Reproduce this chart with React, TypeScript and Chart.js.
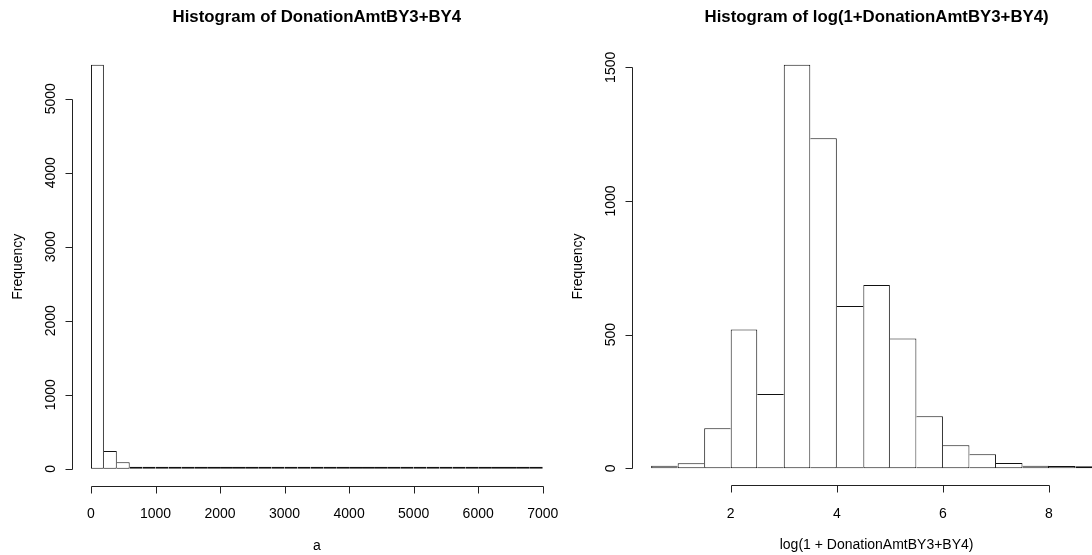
import React, { useEffect, useRef } from "react";
import { Chart, registerables } from "chart.js";

Chart.register(...registerables);

// ---------- Left histogram: DonationAmtBY3+BY4 (bins of width 200) ----------
const leftBinMids = [
  100, 300, 500, 700, 900, 1100, 1300, 1500, 1700, 1900, 2100, 2300, 2500, 2700,
  2900, 3100, 3300, 3500, 3700, 3900, 4100, 4300, 4500, 4700, 4900, 5100, 5300,
  5500, 5700, 5900, 6100, 6300, 6500, 6700, 6900,
];
const leftCounts = [
  5460, 239, 86, 23, 19, 14, 8, 6, 5, 4, 3, 3, 2, 2, 2, 1, 1, 1, 1, 1, 1, 1, 1, 1,
  1, 1, 1, 1, 1, 1, 1, 1, 1, 1, 1,
];
const leftBinWidth = 200;
const leftXTicks = [0, 1000, 2000, 3000, 4000, 5000, 6000, 7000];
const leftXTickLabels = ["0", "1000", "2000", "3000", "4000", "5000", "6000", "7000"];
const leftYTicks = [0, 1000, 2000, 3000, 4000, 5000];
const leftYTickLabels = ["0", "1000", "2000", "3000", "4000", "5000"];
const leftTitle = "Histogram of DonationAmtBY3+BY4";
const leftXTitle = "a";

// ---------- Right histogram: log(1+DonationAmtBY3+BY4) (bins of width 0.5) ----------
const rightBinMids = [
  0.75, 1.25, 1.75, 2.25, 2.75, 3.25, 3.75, 4.25, 4.75, 5.25, 5.75, 6.25, 6.75,
  7.25, 7.75, 8.25, 8.75,
];
const rightCounts = [9, 19, 150, 519, 278, 1510, 1235, 607, 686, 485, 195, 86, 52, 20, 9, 8, 4];
const rightBinWidth = 0.5;
const rightXTicks = [2, 4, 6, 8];
const rightXTickLabels = ["2", "4", "6", "8"];
const rightYTicks = [0, 500, 1000, 1500];
const rightYTickLabels = ["0", "500", "1000", "1500"];
const rightTitle = "Histogram of log(1+DonationAmtBY3+BY4)";
const rightXTitle = "log(1 + DonationAmtBY3+BY4)";

const yTitle = "Frequency";
const FONT = '"Liberation Sans", Arial, sans-serif';

type HistProps = {
  mids: number[];
  counts: number[];
  binWidth: number;
  xTicks: number[];
  xTickLabels: string[];
  yTicks: number[];
  yTickLabels: string[];
  title: string;
  xTitle: string;
  left: number;
  width: number;
  padding: { left: number; right: number; top: number; bottom: number };
};

function makeAxesPlugin(p: HistProps) {
  return {
    id: "rAxes",
    afterDraw(chart: any) {
      const { ctx, chartArea } = chart;
      const xs = chart.scales.x;
      const ys = chart.scales.y;
      const axX = Math.floor(chartArea.left - 0.5) + 0.5;
      const axY = Math.round(chartArea.bottom) + 1.5;
      ctx.save();
      ctx.strokeStyle = "#222";
      ctx.lineWidth = 1;
      ctx.fillStyle = "#000";

      // x axis
      const px = p.xTicks.map((v) => Math.round(xs.getPixelForValue(v)) + 0.5);
      ctx.beginPath();
      ctx.moveTo(px[0], axY);
      ctx.lineTo(px[px.length - 1], axY);
      px.forEach((x) => {
        ctx.moveTo(x, axY);
        ctx.lineTo(x, axY + 7);
      });
      ctx.stroke();

      // y axis
      const py = p.yTicks.map((v) => Math.round(ys.getPixelForValue(v)) + 0.5);
      ctx.beginPath();
      ctx.moveTo(axX, py[0]);
      ctx.lineTo(axX, py[py.length - 1]);
      py.forEach((y) => {
        ctx.moveTo(axX, y);
        ctx.lineTo(axX - 7, y);
      });
      ctx.stroke();

      // x tick labels
      ctx.font = `14px ${FONT}`;
      ctx.textAlign = "center";
      ctx.textBaseline = "alphabetic";
      p.xTicks.forEach((v, i) => {
        ctx.fillText(p.xTickLabels[i], xs.getPixelForValue(v), chartArea.bottom + 33.5);
      });

      // y tick labels (rotated like R's default las=0)
      p.yTicks.forEach((v, i) => {
        ctx.save();
        ctx.translate(axX - 18, ys.getPixelForValue(v));
        ctx.rotate(-Math.PI / 2);
        ctx.fillText(p.yTickLabels[i], 0, 0);
        ctx.restore();
      });

      // axis titles
      const cx = (chartArea.left + chartArea.right) / 2;
      const cy = (chartArea.top + chartArea.bottom) / 2;
      ctx.fillText(p.xTitle, cx, chartArea.bottom + 65);
      ctx.save();
      ctx.translate(axX - 51, cy);
      ctx.rotate(-Math.PI / 2);
      ctx.fillText(yTitle, 0, 0);
      ctx.restore();

      // main title
      ctx.font = `bold 16.8px ${FONT}`;
      ctx.fillText(p.title, cx, 22);
      ctx.restore();
    },
  };
}

function Hist(p: HistProps) {
  const ref = useRef<HTMLCanvasElement | null>(null);
  useEffect(() => {
    if (!ref.current) return;
    const n = p.counts.length;
    const edgeMin = p.mids[0] - p.binWidth / 2;
    const edgeMax = p.mids[n - 1] + p.binWidth / 2;
    const xExt = 0.04 * (edgeMax - edgeMin);
    const yMax = Math.max(...p.counts);
    const yExt = 0.04 * yMax;
    const chart = new Chart(ref.current, {
      type: "bar",
      data: {
        datasets: [
          {
            data: p.mids.map((m, i) => ({ x: m, y: p.counts[i] })),
            backgroundColor: "#ffffff",
            borderColor: "#111111",
            borderWidth: (c: any) => {
              if (c.type !== "data") return 1;
              const i = c.dataIndex;
              const v = p.counts[i];
              return {
                top: 1,
                bottom: 1,
                left: i === 0 || v > p.counts[i - 1] ? 1 : 0,
                right: i === n - 1 || v >= p.counts[i + 1] ? 1 : 0,
              };
            },
            borderSkipped: false,
            inflateAmount: 0,
            minBarLength: 2,
            barPercentage: 1,
            categoryPercentage: 1,
          } as any,
        ],
      },
      options: {
        responsive: false,
        animation: false,
        devicePixelRatio: 1,
        events: [],
        layout: { padding: p.padding },
        plugins: {
          legend: { display: false },
          title: { display: false },
          tooltip: { enabled: false },
        },
        scales: {
          x: {
            type: "linear",
            display: false,
            offset: false,
            grid: { offset: false },
            min: edgeMin - xExt,
            max: edgeMax + xExt,
            afterBuildTicks: (s: any) => {
              s.ticks = p.xTicks.map((v) => ({ value: v }));
            },
          },
          y: {
            type: "linear",
            display: false,
            offset: false,
            min: -yExt,
            max: yMax + yExt,
            afterBuildTicks: (s: any) => {
              s.ticks = p.yTicks.map((v) => ({ value: v }));
            },
          },
        },
      } as any,
      plugins: [makeAxesPlugin(p)],
    });
    return () => chart.destroy();
  }, []);
  return (
    <canvas
      ref={ref}
      width={p.width}
      height={555}
      style={{ position: "absolute", left: p.left, top: 0, width: p.width, height: 555, display: "block" }}
    />
  );
}

export default function App() {
  return (
    <div
      style={{
        position: "fixed",
        left: 0,
        top: 0,
        width: 1092,
        height: 555,
        overflow: "hidden",
        background: "#ffffff",
      }}
    >
      <Hist
        mids={leftBinMids}
        counts={leftCounts}
        binWidth={leftBinWidth}
        xTicks={leftXTicks}
        xTickLabels={leftXTickLabels}
        yTicks={leftYTicks}
        yTickLabels={leftYTickLabels}
        title={leftTitle}
        xTitle={leftXTitle}
        left={0}
        width={600}
        padding={{ left: 72.9, right: 39.2, top: 48.5, bottom: 70.1 }}
      />
      <Hist
        mids={rightBinMids}
        counts={rightCounts}
        binWidth={rightBinWidth}
        xTicks={rightXTicks}
        xTickLabels={rightXTickLabels}
        yTicks={rightYTicks}
        yTickLabels={rightYTickLabels}
        title={rightTitle}
        xTitle={rightXTitle}
        left={546}
        width={600}
        padding={{ left: 87.1, right: 25.9, top: 48.5, bottom: 70.6 }}
      />
    </div>
  );
}
